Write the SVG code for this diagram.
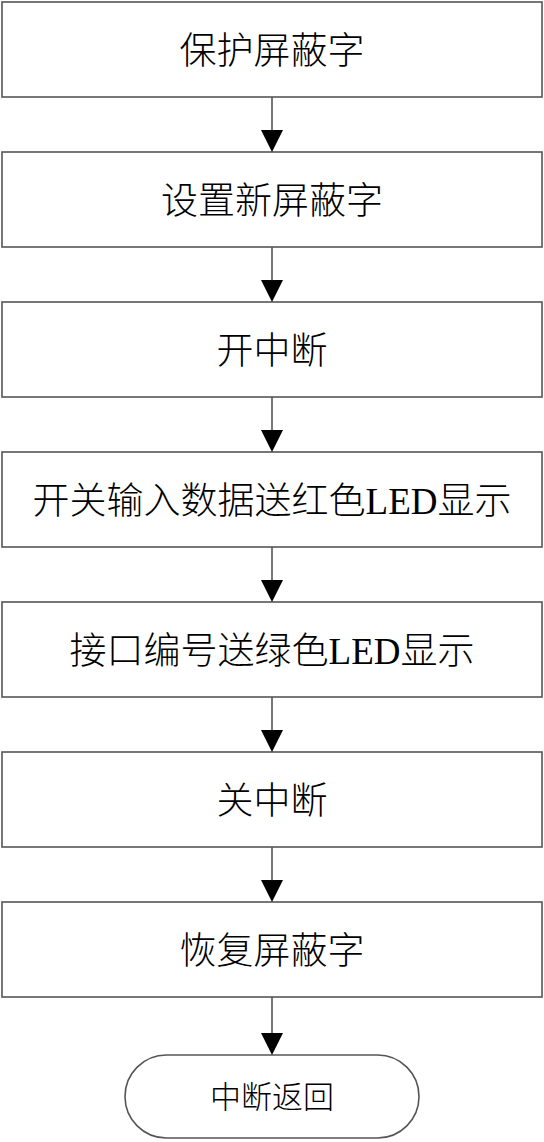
<svg xmlns="http://www.w3.org/2000/svg" width="544" height="1142" viewBox="0 0 544 1142">
<style>
.box{fill:#fff;stroke:#555;stroke-width:1.6}
.t{font-family:"Liberation Serif","Noto Sans CJK SC",serif;font-weight:300;font-size:37px;fill:#000;text-anchor:middle}
.ts{font-size:31px}
.ln{stroke:#555;stroke-width:1.6;fill:none}
.ah{fill:#000}
</style>
<rect width="544" height="1142" fill="#fff"/>
<g id="n1"><rect class="box" x="2" y="2" width="540" height="95"/><text class="t" x="272" y="64">保护屏蔽字</text></g>
<g id="n2"><rect class="box" x="2" y="152" width="540" height="95"/><text class="t" x="272" y="214">设置新屏蔽字</text></g>
<g id="n3"><rect class="box" x="2" y="302" width="540" height="95"/><text class="t" x="272" y="364">开中断</text></g>
<g id="n4"><rect class="box" x="2" y="452" width="540" height="95"/><text class="t" x="272" y="514">开关输入数据送红色LED显示</text></g>
<g id="n5"><rect class="box" x="2" y="602" width="540" height="95"/><text class="t" x="272" y="664">接口编号送绿色LED显示</text></g>
<g id="n6"><rect class="box" x="2" y="752" width="540" height="95"/><text class="t" x="272" y="814">关中断</text></g>
<g id="n7"><rect class="box" x="2" y="902" width="540" height="95"/><text class="t" x="272" y="964">恢复屏蔽字</text></g>
<g id="n8"><rect class="box" x="125" y="1055" width="294" height="83" rx="41.5" ry="41.5"/><text class="t ts" x="272" y="1108">中断返回</text></g>
<g id="connectors">
<line class="ln" x1="272" y1="97" x2="272" y2="132"/><polygon class="ah" points="261,130 283,130 272,152"/>
<line class="ln" x1="272" y1="247" x2="272" y2="282"/><polygon class="ah" points="261,280 283,280 272,302"/>
<line class="ln" x1="272" y1="397" x2="272" y2="432"/><polygon class="ah" points="261,430 283,430 272,452"/>
<line class="ln" x1="272" y1="547" x2="272" y2="582"/><polygon class="ah" points="261,580 283,580 272,602"/>
<line class="ln" x1="272" y1="697" x2="272" y2="732"/><polygon class="ah" points="261,730 283,730 272,752"/>
<line class="ln" x1="272" y1="847" x2="272" y2="882"/><polygon class="ah" points="261,880 283,880 272,902"/>
<line class="ln" x1="272" y1="997" x2="272" y2="1035"/><polygon class="ah" points="261,1033 283,1033 272,1055"/>
</g>
</svg>
